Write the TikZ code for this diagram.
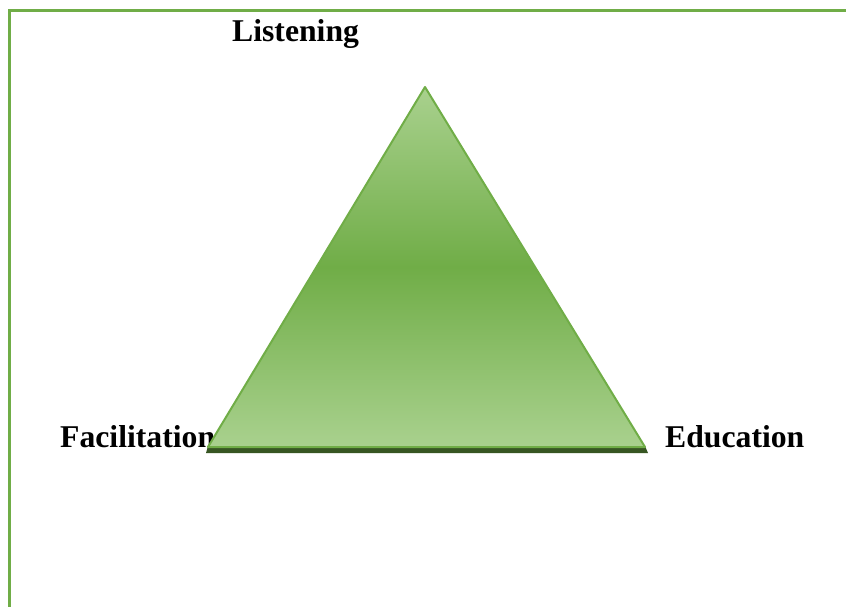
\documentclass[tikz,border=0pt]{standalone}
\usepackage{fontspec}
\setmainfont{Liberation Serif}
\usepackage{tikz}

\definecolor{leaf}{HTML}{70AD47}
\definecolor{pale}{HTML}{A9D18E}
\definecolor{moss}{HTML}{375623}

\begin{document}
\begin{tikzpicture}[x=1pt,y=1pt,
  lbl/.style={anchor=base west,inner sep=0pt,font=\fontsize{31.7}{36}\selectfont\bfseries}]
\useasboundingbox (0,0) rectangle (846,-607);
\draw[leaf,line width=3.5pt] (9.5,-607) -- (9.5,-10.5) -- (846,-10.5);
\node[lbl] (lis) at (232,-42) {Listening};
\node[lbl] (fac) at (60,-447) {Facilitation};
\node[lbl] (edu) at (665,-447) {Education};
\coordinate (top) at (425,-87);
\coordinate (bl) at (208,-447);
\coordinate (br) at (645,-447);
\fill[moss] (206,-453) -- (208,-446) -- (645,-446) -- (648,-453) -- cycle;
\shade[top color=pale,bottom color=pale,middle color=leaf] (top) -- (br) -- (bl) -- cycle;
\draw[leaf,line width=2pt,line join=round] (top) -- (br) -- (bl) -- cycle;
\end{tikzpicture}
\end{document}
